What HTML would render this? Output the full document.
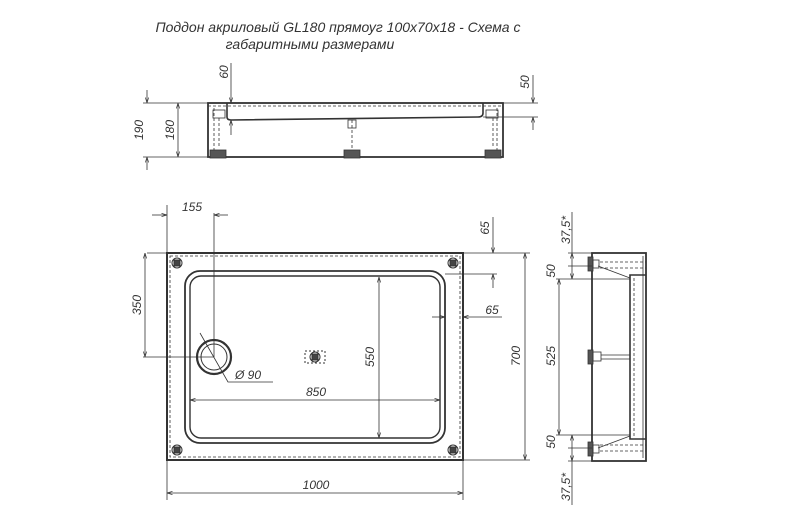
<!DOCTYPE html>
<html><head><meta charset="utf-8"><style>
html,body{margin:0;padding:0;background:#fff;}
svg{display:block;}
text{font-family:"Liberation Sans",sans-serif;font-style:italic;fill:#333;}
</style></head><body>
<svg width="810" height="528" viewBox="0 0 810 528" xmlns="http://www.w3.org/2000/svg">
<defs>
<marker id="a" viewBox="0 0 10 10" refX="10" refY="5" markerWidth="7" markerHeight="7" orient="auto-start-reverse"><path d="M0,2 L10,5 L0,8" fill="none" stroke="#333" stroke-width="1.2"/></marker>
</defs>
<text x="338" y="32" font-size="14" text-anchor="middle">Поддон акриловый  GL180 прямоуг 100x70x18 - Схема с</text>
<text x="310" y="49" font-size="14" text-anchor="middle">габаритными размерами</text>

<g stroke="#333" fill="none" stroke-width="0.8">
<!-- SIDE VIEW -->
<rect x="208" y="103" width="295" height="54" stroke-width="1.8"/>
<line x1="208" y1="106" x2="503" y2="106" stroke-dasharray="3,2"/>
<path d="M227 103 V117 Q227 120 231 120 L478 117 Q483 117 483 113 V103" stroke-width="1.6"/>
<line x1="214" y1="108" x2="214" y2="152" stroke-dasharray="3,2"/>
<line x1="497" y1="108" x2="497" y2="152" stroke-dasharray="3,2"/>
<rect x="213" y="110" width="12" height="8"/>
<rect x="486" y="110" width="12" height="8"/>
<line x1="219" y1="118" x2="219" y2="148" stroke-dasharray="3,2"/>
<line x1="493" y1="118" x2="493" y2="148" stroke-dasharray="3,2"/>
<line x1="352" y1="120" x2="352" y2="148" stroke-dasharray="3,2"/>
<rect x="348" y="120" width="8" height="8"/>
<rect x="210" y="150" width="16" height="8" fill="#555"/>
<rect x="344" y="150" width="16" height="8" fill="#555"/>
<rect x="485" y="150" width="16" height="8" fill="#555"/>
<!-- side dims -->
<line x1="143" y1="103" x2="208" y2="103"/>
<line x1="143" y1="157" x2="208" y2="157"/>
<line x1="147" y1="90" x2="147" y2="103" marker-end="url(#a)"/>
<line x1="147" y1="170" x2="147" y2="157" marker-end="url(#a)"/>
<line x1="178" y1="103" x2="178" y2="157" marker-start="url(#a)" marker-end="url(#a)"/>
<line x1="231" y1="63" x2="231" y2="103" marker-end="url(#a)"/>
<line x1="231" y1="135" x2="231" y2="120" marker-end="url(#a)"/>
<line x1="503" y1="103" x2="538" y2="103"/>
<line x1="483" y1="117" x2="538" y2="117"/>
<line x1="533" y1="75" x2="533" y2="103" marker-end="url(#a)"/>
<line x1="533" y1="130" x2="533" y2="117" marker-end="url(#a)"/>

<!-- PLAN VIEW -->
<rect x="167" y="253" width="296" height="207" stroke-width="2"/>
<rect x="170" y="256" width="290" height="201" stroke-dasharray="3,2"/>
<rect x="185" y="271" width="260" height="172" rx="15" stroke-width="1.8"/>
<rect x="190" y="276" width="250" height="162" rx="11" stroke-width="1.4"/>
<circle cx="214" cy="357" r="17" stroke-width="2.2"/>
<circle cx="214" cy="357" r="13" stroke-width="1"/>
<g stroke-width="1">
<circle cx="177" cy="263" r="5"/><rect x="174" y="260" width="6" height="6" fill="#444"/>
<circle cx="453" cy="263" r="5"/><rect x="450" y="260" width="6" height="6" fill="#444"/>
<circle cx="177" cy="450" r="5"/><rect x="174" y="447" width="6" height="6" fill="#444"/>
<circle cx="453" cy="450" r="5"/><rect x="450" y="447" width="6" height="6" fill="#444"/>
<circle cx="315" cy="357" r="5"/><rect x="312" y="354" width="6" height="6" fill="#444"/>
<rect x="305" y="351" width="20" height="12" stroke-dasharray="2,2"/>
</g>
<!-- plan dims -->
<line x1="167" y1="205" x2="167" y2="253"/>
<line x1="214" y1="213" x2="214" y2="357"/>
<line x1="152" y1="215" x2="167" y2="215" marker-end="url(#a)"/>
<line x1="228" y1="215" x2="214" y2="215" marker-end="url(#a)"/>
<line x1="147" y1="253" x2="167" y2="253"/>
<line x1="143" y1="357" x2="214" y2="357"/>
<line x1="145" y1="253" x2="145" y2="357" marker-start="url(#a)" marker-end="url(#a)"/>
<line x1="463" y1="253" x2="530" y2="253"/>
<line x1="445" y1="274" x2="497" y2="274"/>
<line x1="493" y1="217" x2="493" y2="253" marker-end="url(#a)"/>
<line x1="493" y1="288" x2="493" y2="274" marker-end="url(#a)"/>
<line x1="432" y1="317" x2="445" y2="317" marker-end="url(#a)"/>
<line x1="502" y1="317" x2="463" y2="317" marker-end="url(#a)"/>
<line x1="379" y1="277" x2="379" y2="438" marker-start="url(#a)" marker-end="url(#a)"/>
<line x1="190" y1="400" x2="440" y2="400" marker-start="url(#a)" marker-end="url(#a)"/>
<line x1="463" y1="460" x2="530" y2="460"/>
<line x1="525" y1="253" x2="525" y2="460" marker-start="url(#a)" marker-end="url(#a)"/>
<line x1="167" y1="460" x2="167" y2="500"/>
<line x1="463" y1="460" x2="463" y2="500"/>
<line x1="167" y1="493" x2="463" y2="493" marker-start="url(#a)" marker-end="url(#a)"/>
<polyline points="200,333 228,382 273,382"/>

<!-- RIGHT VIEW -->
<rect x="592" y="253" width="54" height="208" stroke-width="1.8"/>
<line x1="643" y1="256" x2="643" y2="458"/>
<path d="M646 275 H630 V439 H646" stroke-width="1.6"/>
<line x1="634" y1="278" x2="634" y2="436" stroke-dasharray="3,2"/>
<line x1="600" y1="262" x2="646" y2="262" stroke-dasharray="3,2"/>
<line x1="600" y1="268" x2="646" y2="268" stroke-dasharray="3,2"/>
<line x1="600" y1="445" x2="646" y2="445" stroke-dasharray="3,2"/>
<line x1="600" y1="451" x2="646" y2="451" stroke-dasharray="3,2"/>
<line x1="598" y1="266" x2="630" y2="278"/>
<line x1="598" y1="448" x2="630" y2="436"/>
<rect x="588" y="257" width="5" height="14" fill="#555"/>
<rect x="593" y="260" width="6" height="8"/>
<rect x="588" y="442" width="5" height="14" fill="#555"/>
<rect x="593" y="445" width="6" height="8"/>
<rect x="588" y="350" width="5" height="14" fill="#555"/>
<rect x="593" y="352" width="8" height="9"/>
<line x1="601" y1="355" x2="630" y2="355"/>
<line x1="601" y1="359" x2="630" y2="359"/>
<line x1="568" y1="253" x2="592" y2="253"/>
<line x1="568" y1="266" x2="592" y2="266"/>
<line x1="556" y1="279" x2="630" y2="279"/>
<line x1="556" y1="435" x2="630" y2="435"/>
<line x1="568" y1="448" x2="592" y2="448"/>
<line x1="568" y1="461" x2="592" y2="461"/>
<line x1="572" y1="212" x2="572" y2="253"/>
<line x1="572" y1="253" x2="572" y2="279" marker-start="url(#a)" marker-end="url(#a)"/>
<line x1="559" y1="279" x2="559" y2="435" marker-start="url(#a)" marker-end="url(#a)"/>
<line x1="572" y1="435" x2="572" y2="461" marker-start="url(#a)" marker-end="url(#a)"/>
<line x1="572" y1="461" x2="572" y2="505"/>
</g>

<g font-size="12">
<text x="192" y="211" text-anchor="middle">155</text>
<text transform="translate(141,305) rotate(-90)" text-anchor="middle">350</text>
<text transform="translate(489,228) rotate(-90)" text-anchor="middle">65</text>
<text x="492" y="314" text-anchor="middle">65</text>
<text transform="translate(374,357) rotate(-90)" text-anchor="middle">550</text>
<text x="316" y="396" text-anchor="middle">850</text>
<text x="248" y="379" text-anchor="middle">Ø 90</text>
<text transform="translate(520,356) rotate(-90)" text-anchor="middle">700</text>
<text x="316" y="489" text-anchor="middle">1000</text>
<text transform="translate(143,130) rotate(-90)" text-anchor="middle">190</text>
<text transform="translate(174,130) rotate(-90)" text-anchor="middle">180</text>
<text transform="translate(228,72) rotate(-90)" text-anchor="middle">60</text>
<text transform="translate(529,82) rotate(-90)" text-anchor="middle">50</text>
<text transform="translate(570,230) rotate(-90)" text-anchor="middle">37,5*</text>
<text transform="translate(555,271) rotate(-90)" text-anchor="middle">50</text>
<text transform="translate(555,356) rotate(-90)" text-anchor="middle">525</text>
<text transform="translate(555,442) rotate(-90)" text-anchor="middle">50</text>
<text transform="translate(570,487) rotate(-90)" text-anchor="middle">37,5*</text>
</g>
</svg>
</body></html>
